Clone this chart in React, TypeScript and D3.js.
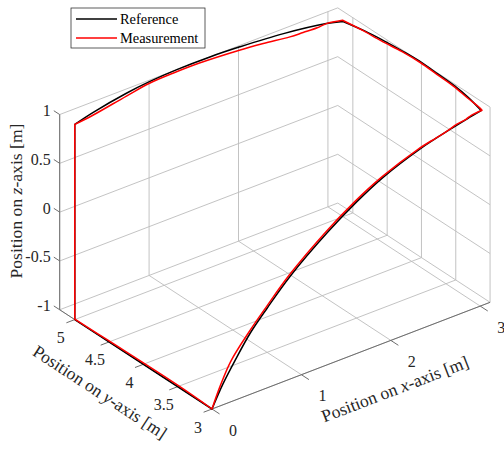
import React from "react";
import * as d3 from "d3";

// ---- Axis limits & ticks ----
const XLIM: [number, number] = [0, 3.11];
const YLIM: [number, number] = [3, 5.22];
const ZLIM: [number, number] = [-1, 1];
const xTicks = [0, 1, 2, 3];
const yTicks = [3, 3.5, 4, 4.5, 5];
const zTicks = [-1, -0.5, 0, 0.5, 1];
const xTickLabels = ["0", "1", "2", "3"];
const yTickLabels = ["3", "3.5", "4", "4.5", "5"];
const zTickLabels = ["-1", "-0.5", "0", "0.5", "1"];

// ---- Reference trajectory ----
const refX = [0, 0, 0, 0.26, 0.7, 1.0, 1.31, 1.68, 2.0, 2.45, 2.86, 3.0, 3.05, 3.08, 3.1, 3.11, 3.1, 3.09, 3.06, 3.01, 2.88, 2.69, 2.32, 1.91, 1.62, 1.29, 0.87, 0.62, 0.43, 0.26, 0.12, 0];
const refY = [3, 5, 5, 5.07, 5.16, 5.2, 5.22, 5.22, 5.2, 5.15, 5.06, 5.0, 4.75, 4.5, 4.25, 4.0, 3.75, 3.5, 3.25, 3.0, 3, 3, 3, 3, 3, 3, 3, 3, 3, 3, 3, 3];
const refZ = [-1, -1, 1, 1, 1, 1, 1, 1, 1, 1, 1, 1, 1, 1, 1, 1, 1, 1, 1, 1, 0.975, 0.935, 0.845, 0.7, 0.555, 0.355, 0.05, -0.18, -0.37, -0.59, -0.79, -1];
const refCorners = [0, 1, 2, 11, 19, 31];

// ---- Measured trajectory ----
const measX = [0, 0, 0, 0, 0, 0, 0.22, 0.67, 0.97, 1.25, 1.54, 1.96, 2.2, 2.46, 2.6, 2.75, 2.86, 3.01, 3.04, 3.06, 3.09, 3.1, 3.09, 3.08, 3.05, 3.03, 3.02, 2.9, 2.84, 2.74, 2.62, 2.5, 2.3, 1.9, 1.6, 1.27, 0.86, 0.61, 0.41, 0.21, 0.09, 0];
const measY = [3, 3.5, 4.5, 5, 5, 5, 5.03, 5.12, 5.175, 5.19, 5.19, 5.155, 5.12, 5.07, 5.06, 5.05, 5.06, 5.02, 4.78, 4.52, 4.25, 4.0, 3.75, 3.5, 3.25, 3.05, 3.0, 3, 3, 3, 3, 3, 3, 3, 3, 3, 3, 3, 3, 3, 3, 3];
const measZ = [-1, -0.985, -0.99, -0.995, 0, 1, 1, 1, 1, 1, 1, 1, 1, 1, 1, 1, 1, 1, 1, 1, 1, 1, 1, 1, 1, 1, 1, 0.99, 0.97, 0.955, 0.92, 0.895, 0.85, 0.71, 0.565, 0.365, 0.065, -0.165, -0.36, -0.585, -0.8, -1];
const measCorners = [0, 3, 5, 17, 26, 41];

const legendLabels = ["Reference", "Measurement"];
const seriesColors = ["#000000", "#ff0000"];

type P3 = [number, number, number];

export default function App() {
  const W = 504, H = 449;
  const S = 112.7; // pixels per data unit (axis equal)
  const az = (37.5 * Math.PI) / 180;
  const el = (30 * Math.PI) / 180;
  const ca = Math.cos(az), sa = Math.sin(az), se = Math.sin(el), ce = Math.cos(el);
  const O = [212, 409];

  const sx = d3.scaleLinear().domain(XLIM).range([0, (XLIM[1] - XLIM[0]) * S]);
  const sy = d3.scaleLinear().domain(YLIM).range([0, (YLIM[1] - YLIM[0]) * S]);
  const sz = d3.scaleLinear().domain(ZLIM).range([0, (ZLIM[1] - ZLIM[0]) * S]);

  const proj = (p: P3): [number, number] => {
    const X = sx(p[0]), Y = sy(p[1]), Z = sz(p[2]);
    return [O[0] + X * ca - Y * sa, O[1] - (X * sa * se + Y * ca * se + Z * ce)];
  };
  const line = d3
    .line<P3>()
    .x((d) => proj(d)[0])
    .y((d) => proj(d)[1])
    .curve(d3.curveCatmullRom.alpha(0.5));

  const pathOf = (pts: P3[], corners: number[]) => {
    let d = "";
    for (let i = 0; i < corners.length - 1; i++) {
      d += line(pts.slice(corners[i], corners[i + 1] + 1)) || "";
    }
    return d;
  };

  const refPts: P3[] = refX.map((x, i) => [x, refY[i], refZ[i]]);
  const measPts: P3[] = measX.map((x, i) => [x, measY[i], measZ[i]]);

  const [x0, x1] = XLIM, [y0, y1] = YLIM, [z0, z1] = ZLIM;
  const grid: [P3, P3][] = [];
  xTicks.forEach((x) => grid.push([[x, y0, z0], [x, y1, z0]]));
  yTicks.forEach((y) => grid.push([[x0, y, z0], [x1, y, z0]]));
  xTicks.forEach((x) => grid.push([[x, y1, z0], [x, y1, z1]]));
  zTicks.forEach((z) => grid.push([[x0, y1, z], [x1, y1, z]]));
  yTicks.forEach((y) => grid.push([[x1, y, z0], [x1, y, z1]]));
  zTicks.forEach((z) => grid.push([[x1, y0, z], [x1, y1, z]]));

  const axes: [P3, P3][] = [
    [[x0, y0, z0], [x1, y0, z0]],
    [[x0, y0, z0], [x0, y1, z0]],
    [[x0, y1, z0], [x0, y1, z1]],
  ];

  const nrm = (v: number[]) => { const l = Math.hypot(v[0], v[1]); return [v[0] / l, v[1] / l]; };
  const ex = nrm([ca, -sa * se]), ey = nrm([-sa, -ca * se]);
  const TL = 9;

  const font = "Liberation Serif";
  const axisColor = "#6e6e6e";
  const gridColor = "#bcbcbc";
  const textColor = "#262626";

  const seg = (a: P3, b: P3, key: string, stroke: string, sw: number) => {
    const p = proj(a), q = proj(b);
    return <line key={key} x1={p[0]} y1={p[1]} x2={q[0]} y2={q[1]} stroke={stroke} strokeWidth={sw} />;
  };

  return (
    <svg width={W} height={H} style={{ position: "absolute", left: 0, top: 0, background: "#fff" }}>
      <rect x={0} y={0} width={W} height={H} fill="#fff" />
      <g>{grid.map((g, i) => seg(g[0], g[1], "g" + i, gridColor, 0.9))}</g>
      <g>{axes.map((g, i) => seg(g[0], g[1], "a" + i, axisColor, 1))}</g>
      <g stroke={axisColor} strokeWidth={1}>
        {xTicks.map((x, i) => { const p = proj([x, y0, z0]); return <line key={"xt" + i} x1={p[0]} y1={p[1]} x2={p[0] - ey[0] * TL} y2={p[1] - ey[1] * TL} />; })}
        {yTicks.map((y, i) => { const p = proj([x0, y, z0]); return <line key={"yt" + i} x1={p[0]} y1={p[1]} x2={p[0] - ex[0] * TL} y2={p[1] - ex[1] * TL} />; })}
        {zTicks.map((z, i) => { const p = proj([x0, y1, z]); return <line key={"zt" + i} x1={p[0]} y1={p[1]} x2={p[0] + ey[0] * 7} y2={p[1] + ey[1] * 7} />; })}
      </g>
      <g>
        {xTicks.map((x, i) => { const p = proj([x, y0, z0]); return <text key={"xl" + i} x={p[0] + 21} y={p[1] + 21} textAnchor="middle" dominantBaseline="central" fontFamily={font} fontSize={16} fill={textColor}>{xTickLabels[i]}</text>; })}
        {yTicks.map((y, i) => { const p = proj([x0, y, z0]); return <text key={"yl" + i} x={p[0] - 14} y={p[1] + 18} textAnchor="middle" dominantBaseline="central" fontFamily={font} fontSize={16} fill={textColor}>{yTickLabels[i]}</text>; })}
        {zTicks.map((z, i) => { const p = proj([x0, y1, z]); return <text key={"zl" + i} x={p[0] - 9} y={p[1] - 4} textAnchor="end" dominantBaseline="central" fontFamily={font} fontSize={16} fill={textColor}>{zTickLabels[i]}</text>; })}
      </g>
      <g>
        <text transform="translate(395,389) rotate(-21)" textAnchor="middle" dominantBaseline="central" fontFamily={font} fontSize={17.6} fill={textColor}>
          Position on <tspan fontStyle="italic">x</tspan>-axis [m]
        </text>
        <text transform="translate(100,392) rotate(33.1)" textAnchor="middle" dominantBaseline="central" fontFamily={font} fontSize={17.6} fill={textColor}>
          Position on <tspan fontStyle="italic">y</tspan>-axis [m]
        </text>
        <text transform="translate(16,201) rotate(-90)" textAnchor="middle" dominantBaseline="central" fontFamily={font} fontSize={17.6} fill={textColor}>
          Position on <tspan fontStyle="italic">z</tspan>-axis [m]
        </text>
      </g>
      <path d={pathOf(refPts, refCorners)} fill="none" stroke={seriesColors[0]} strokeWidth={1.5} strokeLinejoin="round" strokeLinecap="round" />
      <path d={pathOf(measPts, measCorners)} fill="none" stroke={seriesColors[1]} strokeWidth={1.5} strokeLinejoin="round" strokeLinecap="round" />
      <g>
        <rect x={71} y={8} width={134} height={40} fill="#fff" stroke={textColor} strokeWidth={0.75} />
        {legendLabels.map((l, i) => (
          <g key={l}>
            <line x1={76} x2={117} y1={19 + i * 19} y2={19 + i * 19} stroke={seriesColors[i]} strokeWidth={1.5} />
            <text x={120} y={19 + i * 19} fontFamily={font} fontSize={14.4} dominantBaseline="central" fill="#000">{l}</text>
          </g>
        ))}
      </g>
    </svg>
  );
}
